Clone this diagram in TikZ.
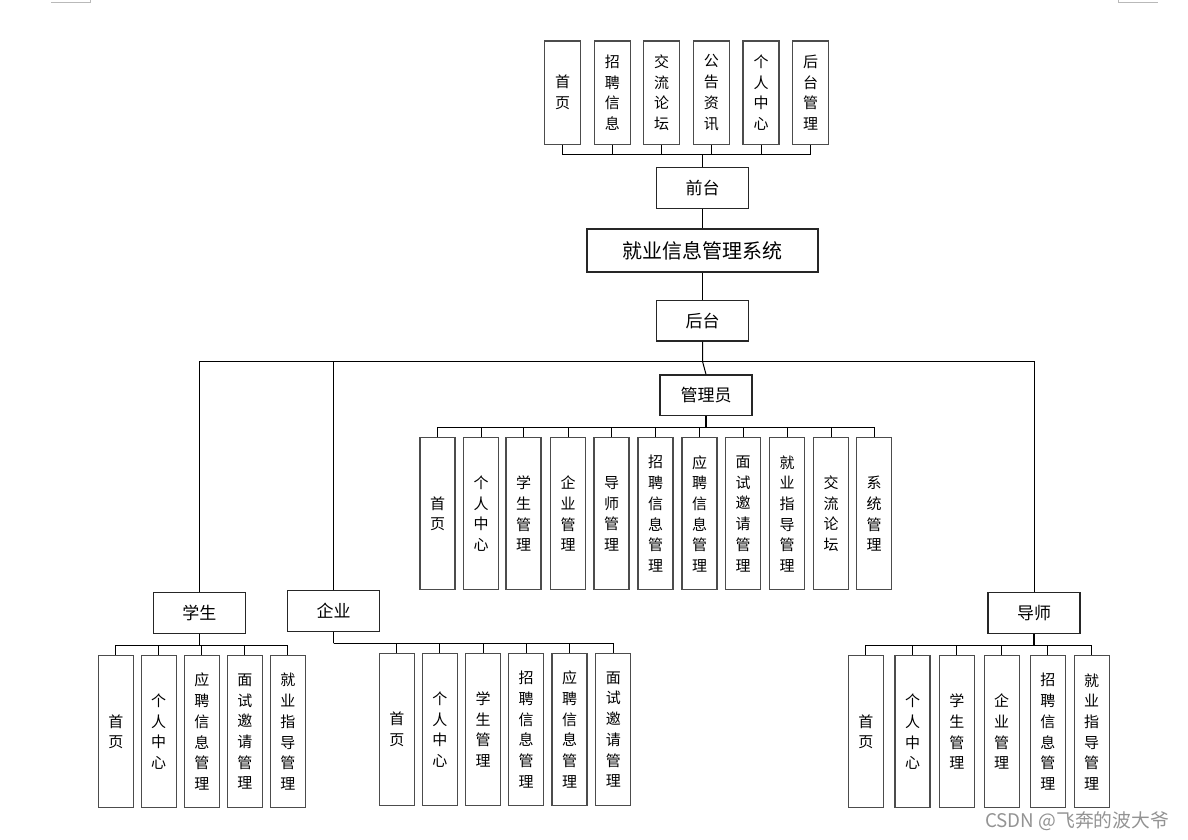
\documentclass[tikz,border=0pt]{standalone}
\usepackage{fontspec}
\setmainfont{Noto Sans CJK SC}
\begin{document}
\begin{tikzpicture}[x=1pt,y=-1pt,
  box/.style={draw=black!85, line width=1.2pt, fill=white, inner sep=0pt, align=center},
  leaf/.style={box, draw=black!70, minimum width=35pt, minimum height=152pt,
    font=\fontsize{15}{20.7}\selectfont},
  topleaf/.style={leaf, minimum width=36pt, minimum height=103pt},
  head/.style={box, minimum width=92pt, minimum height=40.6pt, font=\fontsize{17}{20}\selectfont},
  conn/.style={line width=1pt, draw=black}]
\useasboundingbox (0,0) rectangle (1188,840);
% page corner marks
\draw[gray!55, line width=0.8pt] (51,2.5) -- (90.5,2.5) -- (90.5,0);
\draw[gray!55, line width=0.8pt] (1118.3,0) -- (1118.3,2.5) -- (1157.7,2.5);

% ---- top (front end) ----
\node[topleaf] (t1) at (562.5,92.6) {首\\页};
\node[topleaf] (t2) at (612.3,92.6) {招\\聘\\信\\息};
\node[topleaf] (t3) at (661.7,92.6) {交\\流\\论\\坛};
\node[topleaf] (t4) at (711.3,92.6) {公\\告\\资\\讯};
\node[topleaf] (t5) at (761,92.6) {个\\人\\中\\心};
\node[topleaf] (t6) at (810.7,92.6) {后\\台\\管\\理};
\node[head] (qt) at (702.5,188) {前台};
\node[box, minimum width=231pt, minimum height=43pt, font=\fontsize{20}{24}\selectfont] (sys) at (702.5,250.5) {就业信息管理系统};
\node[head] (ht) at (702.5,320.7) {后台};
\node[head] (gly) at (706,395.3) {管理员};

\coordinate (tb) at (702.5,154.3);
\draw[conn] (qt.north) -- (tb);
\foreach \n in {t1,t2,t3,t4,t5,t6} \draw[conn] (tb) -| (\n.south);
\draw[conn] (qt.south) -- (sys.north);
\draw[conn] (sys.south) -- (ht.north);

% ---- admin ----
\node[leaf] (a1) at (437.5,513.8) {首\\页};
\node[leaf] (a2) at (481,513.8) {个\\人\\中\\心};
\node[leaf] (a3) at (523.5,513.8) {学\\生\\管\\理};
\node[leaf] (a4) at (568,513.8) {企\\业\\管\\理};
\node[leaf] (a5) at (611.5,513.8) {导\\师\\管\\理};
\node[leaf] (a6) at (655.5,513.8) {招\\聘\\信\\息\\管\\理};
\node[leaf] (a7) at (699.5,513.8) {应\\聘\\信\\息\\管\\理};
\node[leaf] (a8) at (743,513.8) {面\\试\\邀\\请\\管\\理};
\node[leaf] (a9) at (787,513.8) {就\\业\\指\\导\\管\\理};
\node[leaf] (a10) at (831,513.8) {交\\流\\论\\坛};
\node[leaf] (a11) at (874,513.8) {系\\统\\管\\理};
\coordinate (ab) at (706,427.3);
\draw[conn, line width=1.6pt] (gly.south) -- (ab);
\foreach \n in {a1,a2,a3,a4,a5,a6,a7,a8,a9,a10,a11} \draw[conn] (ab) -| (\n.north);

% ---- roles ----
\node[head] (xs) at (199.3,613) {学生};
\node[head] (qy) at (333.5,611) {企业};
\node[head] (ds) at (1034,613) {导师};
\coordinate (mb) at (702.5,361.3);
\draw[conn] (ht.south) -- (mb) -- (gly.north);
\draw[conn] (mb) -| (xs.north);
\draw[conn] (mb) -| (qy.north);
\draw[conn] (mb) -| (ds.north);

% ---- student ----
\node[leaf] (s1) at (115.8,731.7) {首\\页};
\node[leaf] (s2) at (158.7,731.7) {个\\人\\中\\心};
\node[leaf] (s3) at (201.8,731.7) {应\\聘\\信\\息\\管\\理};
\node[leaf] (s4) at (244.8,731.7) {面\\试\\邀\\请\\管\\理};
\node[leaf] (s5) at (287.8,731.7) {就\\业\\指\\导\\管\\理};
\coordinate (sb) at (199.3,645.7);
\draw[conn, line width=1.6pt] (xs.south) -- (sb);
\foreach \n in {s1,s2,s3,s4,s5} \draw[conn] (sb) -| (\n.north);

% ---- enterprise ----
\node[leaf] (e1) at (396.8,729.5) {首\\页};
\node[leaf] (e2) at (439.8,729.5) {个\\人\\中\\心};
\node[leaf] (e3) at (483,729.5) {学\\生\\管\\理};
\node[leaf] (e4) at (526,729.5) {招\\聘\\信\\息\\管\\理};
\node[leaf] (e5) at (569.5,729.5) {应\\聘\\信\\息\\管\\理};
\node[leaf] (e6) at (613.3,729.5) {面\\试\\邀\\请\\管\\理};
\coordinate (eb) at (333.5,643.3);
\draw[conn] (qy.south) -- (eb);
\foreach \n in {e1,e2,e3,e4,e5,e6} \draw[conn] (eb) -| (\n.north);

% ---- tutor ----
\node[leaf] (d1) at (865.8,731.8) {首\\页};
\node[leaf] (d2) at (912.5,731.8) {个\\人\\中\\心};
\node[leaf] (d3) at (956.8,731.8) {学\\生\\管\\理};
\node[leaf] (d4) at (1001.7,731.8) {企\\业\\管\\理};
\node[leaf] (d5) at (1047.8,731.8) {招\\聘\\信\\息\\管\\理};
\node[leaf] (d6) at (1091.7,731.8) {就\\业\\指\\导\\管\\理};
\coordinate (db) at (1034,645.7);
\draw[conn, line width=1.6pt] (ds.south) -- (db);
\foreach \n in {d1,d2,d3,d4,d5,d6} \draw[conn] (db) -| (\n.north);

% watermark
\node[text=gray!85, font=\fontsize{18.8}{20}\selectfont, inner sep=0pt] (wm) at (1077,821.5) {CSDN @飞奔的波大爷};
\end{tikzpicture}
\end{document}
